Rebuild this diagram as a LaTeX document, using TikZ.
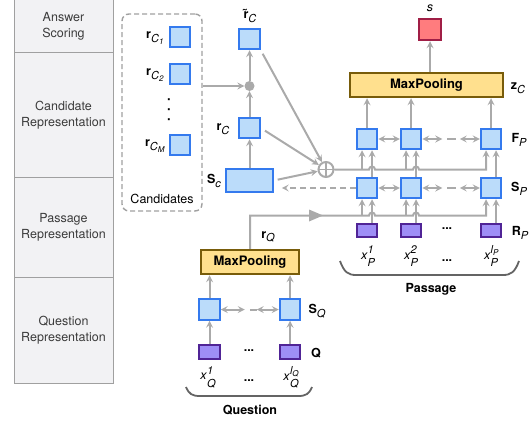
\documentclass[tikz,border=0pt]{standalone}
\usepackage{fontspec}
\setmainfont{TeX Gyre Heros}
\usepackage{tikz}
\usetikzlibrary{shapes.geometric, arrows}

\definecolor{linegray}{RGB}{170,170,170}
\definecolor{vecfill}{RGB}{187,220,250}
\definecolor{vecborder}{RGB}{52,122,238}
\definecolor{wordfill}{RGB}{158,142,246}
\definecolor{wordborder}{RGB}{80,36,150}
\definecolor{poolfill}{RGB}{255,224,142}
\definecolor{poolborder}{RGB}{120,92,10}
\definecolor{scorefill}{RGB}{255,124,126}
\definecolor{scoreborder}{RGB}{160,30,70}
\definecolor{panelfill}{RGB}{242,242,244}
\definecolor{panelborder}{RGB}{160,160,160}
\definecolor{paneltext}{RGB}{60,60,60}
\definecolor{bracegray}{RGB}{100,100,100}

\newcommand{\lowidx}[1]{\raisebox{-0.55ex}{\fontsize{11}{11}\selectfont\mdseries\itshape #1}}
\newcommand{\tinyidx}[1]{\raisebox{-0.35ex}{\fontsize{8}{8}\selectfont #1}}
\newcommand{\supsub}[2]{\makebox[0pt][l]{\raisebox{0.9ex}{\fontsize{11}{11}\selectfont\itshape #1}}\raisebox{-1.1ex}{\fontsize{11}{11}\selectfont\itshape #2}}

\tikzstyle{arrow} = [line width=2pt, draw=linegray, ->, >=stealth]
\tikzstyle{biarrow} = [line width=2pt, draw=linegray, <->, >=stealth]
\tikzstyle{line} = [line width=2pt, draw=linegray]
\tikzstyle{vec} = [rectangle, draw=vecborder, fill=vecfill, line width=2pt, minimum width=20.5pt, minimum height=20.5pt, inner sep=0pt]
\tikzstyle{word} = [rectangle, draw=wordborder, fill=wordfill, line width=2pt, minimum width=20.5pt, minimum height=13.5pt, inner sep=0pt]
\tikzstyle{pool} = [rectangle, draw=poolborder, fill=poolfill, line width=2pt, minimum height=24.5pt, font=\fontsize{13}{15}\selectfont\bfseries]
\tikzstyle{layer} = [rectangle, draw=panelborder, fill=panelfill, line width=1pt, minimum width=99pt, align=center, text=paneltext]
\tikzstyle{brace} = [line width=1.8pt, draw=bracegray]

\begin{document}
\begin{tikzpicture}[x=1pt, y=1pt, font=\fontsize{12.5}{16}\selectfont]
    \useasboundingbox (0,0) rectangle (529,-425);

    % Layers
    \node[layer, minimum height=54pt]  (scoring) at (63.5,-26)  {Answer\\Scoring};
    \node[layer, minimum height=124pt] (candrep) at (63.5,-115) {Candidate\\Representation};
    \node[layer, minimum height=100pt] (passrep) at (63.5,-227) {Passage\\Representation};
    \node[layer, minimum height=106pt] (quesrep) at (63.5,-330) {Question\\Representation};

    % Candidates
    \node[draw=panelborder, line width=1.4pt, dash pattern=on 5pt off 3pt, rounded corners=7pt,
          minimum width=80pt, minimum height=197pt] (candbox) at (162,-112.5) {};
    \node (candtext) at (162,-199) {Candidates};
    \node[vec] (cand1) at (180,-37)  {};
    \node[vec] (cand2) at (180,-74)  {};
    \node[vec] (candm) at (180,-145) {};
    \node[anchor=east] (cand1lab) at (167,-38)  {\textbf{r}\lowidx{C\tinyidx{1}}};
    \node[anchor=east] (cand2lab) at (167,-75)  {\textbf{r}\lowidx{C\tinyidx{2}}};
    \node[anchor=east] (candmlab) at (168,-146) {\textbf{r}\lowidx{C\tinyidx{M}}};
    \node[font=\bfseries\fontsize{13}{13}\selectfont, inner sep=0pt] (canddots) at (169,-110)
        {\rotatebox{90}{.\hspace{6.5pt}.\hspace{6.5pt}.}};

    % Candidate representation
    \node[vec] (rtilde) at (249.5,-39) {};
    \node (rtildelab) at (250,-16) {\textbf{\~{r}}\lowidx{C}};
    \node[circle, fill=linegray, inner sep=0pt, minimum size=10pt] (gate) at (249.5,-86) {};
    \node[vec] (rc) at (249.5,-128) {};
    \node (rclab) at (223,-129) {\textbf{r}\lowidx{C}};
    \node[vec, minimum width=46.5pt, minimum height=23.5pt] (sc) at (249.5,-180.5) {};
    \node (sclab) at (214,-181) {\textbf{S}\lowidx{c}};
    \node[circle, draw=linegray, line width=2pt, minimum size=15pt, inner sep=0pt] (oplus) at (326,-169.5) {};

    % Passage
    \node[pool, minimum width=153.5pt] (ppool) at (426.5,-85) {MaxPooling};
    \node[rectangle, draw=scoreborder, fill=scorefill, line width=2pt, minimum width=21.5pt,
          minimum height=21.5pt, inner sep=0pt] (score) at (430,-29.5) {};
    \node (scorelab) at (430,-8) {\textit{s}};
    \node (zclab) at (518,-88) {\textbf{z}\lowidx{C}};
    \node[vec] (fp1) at (367,-139) {};
    \node[vec] (fp2) at (411,-139) {};
    \node[vec] (fp3) at (491,-139) {};
    \node[vec] (sp1) at (367,-188) {};
    \node[vec] (sp2) at (411,-188) {};
    \node[vec] (sp3) at (491,-188) {};
    \node[word] (rp1) at (367,-230.5) {};
    \node[word] (rp2) at (411,-230.5) {};
    \node[word] (rp3) at (491,-230.5) {};
    \node (fplab) at (519,-140) {\textbf{F}\lowidx{P}};
    \node (splab) at (519,-189) {\textbf{S}\lowidx{P}};
    \node (rplab) at (520,-233) {\textbf{R}\lowidx{P}};
    \node (rpdots) at (447,-229) {\textbf{...}};
    \node (xp1lab) at (368,-256) {\textit{x}\supsub{1}{P}};
    \node (xp2lab) at (411,-256) {\textit{x}\supsub{2}{P}};
    \node (xpdots) at (447,-261) {\textbf{...}};
    \node (xpllab) at (491,-256) {\textit{x}\supsub{l\tinyidx{P}}{P}};
    \node[font=\fontsize{12.5}{16}\selectfont\bfseries] (passlab) at (431,-289) {Passage};

    % Question
    \node[pool, minimum width=98.5pt] (qpool) at (250,-262) {MaxPooling};
    \node (rqlab) at (268,-237) {\textbf{r}\lowidx{Q}};
    \node[vec] (sq1) at (209.5,-309.5) {};
    \node[vec] (sq2) at (290,-309.5) {};
    \node (sqlab) at (317,-311) {\textbf{S}\lowidx{Q}};
    \node[word] (q1) at (209.5,-352) {};
    \node[word] (q2) at (290,-352) {};
    \node (qdots) at (249,-351) {\textbf{...}};
    \node (qlab) at (316,-353) {\textbf{Q}};
    \node (xq1lab) at (208,-377) {\textit{x}\supsub{1}{Q}};
    \node (xqdots) at (249,-381) {\textbf{...}};
    \node (xqllab) at (291,-377) {\textit{x}\supsub{l\tinyidx{Q}}{Q}};
    \node[font=\fontsize{12.5}{16}\selectfont\bfseries] (queslab) at (250,-410) {Question};

    % Branch points
    \coordinate (fl1) at (362,-169.5); \coordinate (hf1) at (372,-169.5);
    \coordinate (fl2) at (406,-169.5); \coordinate (hf2) at (416,-169.5);
    \coordinate (fl3) at (486,-169.5); \coordinate (hf3) at (496,-169.5);
    \coordinate (sl1) at (362,-215.5); \coordinate (hs1) at (372,-215.5);
    \coordinate (sl2) at (406,-215.5); \coordinate (hs2) at (416,-215.5);
    \coordinate (sl3) at (486,-215.5); \coordinate (hs3) at (496,-215.5);
    \coordinate (rqtip) at (323,-215.5);

    % Arrows
    \draw[arrow] (candbox.east |- gate) -- (gate);
    \draw[arrow] (sc) -- (rc);
    \draw[arrow] (rc) -- (gate);
    \draw[arrow] (gate) -- (rtilde);
    \draw[arrow, shorten <=4pt] (rtilde.south east) -- (oplus);
    \draw[arrow, shorten <=5pt] (rc.east) -- (oplus);
    \draw[arrow, shorten <=4pt] (sc.east) -- (oplus);
    \draw[line, line width=1.5pt] (oplus.north) -- (oplus.south) (oplus.west) -- (oplus.east);
    \draw[arrow, dash pattern=on 6pt off 4pt, shorten >=8pt] (sp1.west) -- (sp1.west -| sc.east);

    \draw[arrow] (oplus.east) -- ([xshift=-3pt]hf1) arc[start angle=180, end angle=0, radius=3pt]
        -- ([xshift=-3pt]hf2) arc[start angle=180, end angle=0, radius=3pt] -- (fl3) -- (fl3 |- fp3.south);
    \draw[arrow] (fl1) -- (fl1 |- fp1.south);
    \draw[arrow] (fl2) -- (fl2 |- fp2.south);
    \draw[arrow] (hf1 |- sp1.north) -- (hf1 |- fp1.south);
    \draw[arrow] (hf2 |- sp2.north) -- (hf2 |- fp2.south);
    \draw[arrow] (hf3 |- sp3.north) -- (hf3 |- fp3.south);

    \draw[arrow] (qpool.north) -- (qpool.north |- sl1) -- ([xshift=-3pt]hs1) arc[start angle=180, end angle=0, radius=3pt]
        -- ([xshift=-3pt]hs2) arc[start angle=180, end angle=0, radius=3pt] -- (sl3) -- (sl3 |- sp3.south);
    \fill[linegray] (rqtip) -- ++(-14,6) -- ++(0,-12) -- cycle;
    \draw[arrow] (sl1) -- (sl1 |- sp1.south);
    \draw[arrow] (sl2) -- (sl2 |- sp2.south);
    \draw[arrow] (hs1 |- rp1.north) -- (hs1 |- sp1.south);
    \draw[arrow] (hs2 |- rp2.north) -- (hs2 |- sp2.south);
    \draw[arrow] (hs3 |- rp3.north) -- (hs3 |- sp3.south);

    \draw[arrow] (fp1.north) -- (fp1.north |- ppool.south);
    \draw[arrow] (fp2.north) -- (fp2.north |- ppool.south);
    \draw[arrow] (fp3.north) -- (fp3.north |- ppool.south);
    \draw[arrow] (score.south |- ppool.north) -- (score.south);

    \draw[biarrow] (fp1) -- (fp2);
    \draw[biarrow] (fp2.east) -- ([xshift=20pt]fp2.east);
    \draw[line] ([xshift=25pt]fp2.east) -- ([xshift=-24pt]fp3.west);
    \draw[biarrow] ([xshift=-20pt]fp3.west) -- (fp3.west);
    \draw[biarrow] (sp1) -- (sp2);
    \draw[biarrow] (sp2.east) -- ([xshift=20pt]sp2.east);
    \draw[line] ([xshift=25pt]sp2.east) -- ([xshift=-24pt]sp3.west);
    \draw[biarrow] ([xshift=-20pt]sp3.west) -- (sp3.west);

    \draw[arrow] (q1) -- (sq1);
    \draw[arrow] (q2) -- (sq2);
    \draw[arrow] (sq1.north) -- (sq1.north |- qpool.south);
    \draw[arrow] (sq2.north) -- (sq2.north |- qpool.south);
    \draw[biarrow] (sq1.east) -- ([xshift=24pt]sq1.east);
    \draw[line] ([xshift=29pt]sq1.east) -- ([xshift=-22pt]sq2.west);
    \draw[biarrow] ([xshift=-22pt]sq2.west) -- (sq2.west);

    % Braces
    \draw[brace] (186,-387) .. controls (189,-394) and (192,-396) .. (200,-396) -- (298,-396)
        .. controls (306,-396) and (309,-394) .. (312,-387);
    \draw[brace] (340,-261) .. controls (344,-272) and (348,-275) .. (356,-275) -- (503,-275)
        .. controls (511,-275) and (515,-272) .. (519,-261);

\end{tikzpicture}
\end{document}
